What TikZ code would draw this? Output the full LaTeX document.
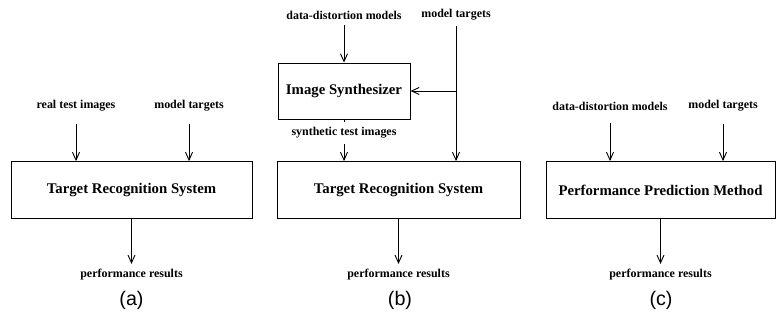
\documentclass[tikz,border=0pt]{standalone}
\usepackage{fontspec}
\setmainfont{Liberation Serif}
\newfontfamily\capfont{Liberation Sans}
\usepackage{tikz}
\usetikzlibrary{arrows.meta,positioning,calc}

\begin{document}
\begin{tikzpicture}[x=0.025cm, y=0.025cm,
    block/.style={rectangle, draw, line width=0.6pt, minimum height=1.425cm, text centered, font=\fontsize{10.5}{12}\selectfont\bfseries},
    lbl/.style={inner sep=1pt, outer sep=3pt, font=\fontsize{8.5}{10}\selectfont\bfseries},
    subcap/.style={font=\capfont\fontsize{14}{16}\selectfont},
    arrow/.style={-{Straight Barb[length=5.5pt,width=5pt]}, line width=0.65pt}]
  \useasboundingbox (0,0) rectangle (776,320);

  % (a) recognition system fed with real images
  \node[block, minimum width=6.025cm] (trsA) at (131.5,130) {Target Recognition System};
  \node[lbl] (rtiA) at (76,214) {real test images};
  \node[lbl] (mtA) at (189,214) {model targets};
  \node[lbl] (prA) at (131.5,45) {performance results};
  \node[subcap] (capA) at (131.5,20) {(a)};
  \draw[arrow, shorten <=5pt] (rtiA) -- (rtiA |- trsA.north);
  \draw[arrow, shorten <=5pt] (mtA) -- (mtA |- trsA.north);
  \draw[arrow] (trsA) -- (prA);

  % (b) recognition system fed with synthesized images
  \node[block, minimum width=3.3cm, minimum height=1.4cm] (isB) at (344,229) {Image Synthesizer};
  \node[block, minimum width=6.075cm] (trsB) at (398.5,130) {Target Recognition System};
  \node[lbl] (ddmB) at (344,305) {data-distortion models};
  \node[lbl] (mtB) at (456,305) {model targets};
  \node[lbl] (stiB) at (344,187) {synthetic test images};
  \node[lbl] (prB) at (398.5,45) {performance results};
  \node[subcap] (capB) at (400,20) {(b)};
  \draw[arrow] (ddmB) -- (ddmB |- isB.north);
  \draw[arrow] (mtB) -- (mtB |- trsB.north);
  \coordinate (split) at (mtB |- isB.east);
  \draw[arrow] (split) -- (isB.east);
  \draw[line width=0.65pt] (isB) -- (stiB);
  \draw[arrow] (stiB) -- (stiB |- trsB.north);
  \draw[arrow] (trsB) -- (prB);

  % (c) prediction method
  \node[block, minimum width=5.725cm] (ppmC) at (660.5,130) {Performance Prediction Method};
  \node[lbl] (ddmC) at (610,214) {data-distortion models};
  \node[lbl] (mtC) at (723,214) {model targets};
  \node[lbl] (prC) at (660.5,45) {performance results};
  \node[subcap] (capC) at (661,20) {(c)};
  \draw[arrow, shorten <=5pt] (ddmC) -- (ddmC |- ppmC.north);
  \draw[arrow, shorten <=5pt] (mtC) -- (mtC |- ppmC.north);
  \draw[arrow] (ppmC) -- (prC);
\end{tikzpicture}
\end{document}
